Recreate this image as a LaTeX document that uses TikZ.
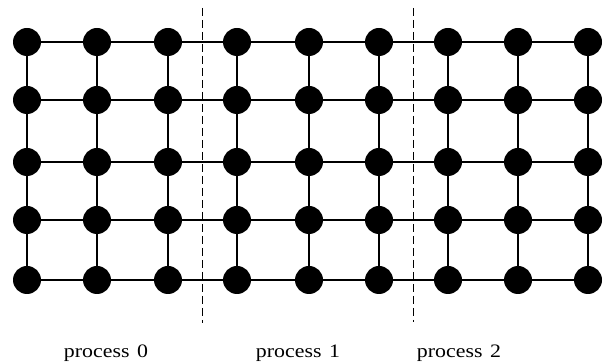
\documentclass[tikz,border=0pt]{standalone}
\usepackage{fontspec}
\setmainfont{Liberation Serif}
\newfontfamily\labfont[FakeStretch=1.15]{Liberation Serif}
\begin{document}
\begin{tikzpicture}[x=1pt,y=-1pt,
  vertex/.style={circle,fill=black,inner sep=0pt,minimum size=28pt},
  edge/.style={line width=1.6pt},
  divider/.style={line width=0.9pt,dash pattern=on 8pt off 4pt},
  plabel/.style={font=\labfont\fontsize{19}{22}\selectfont,inner sep=0pt,anchor=base}]
\useasboundingbox (0,0) rectangle (614,363);
\def\colx{{27,97,168,237,309,379,448,518,588}}
\def\rowy{{42,100,162,220,280}}
\foreach \i in {0,...,8}{
  \foreach \j in {0,...,4}{
    \pgfmathsetmacro{\xx}{\colx[\i]}
    \pgfmathsetmacro{\yy}{\rowy[\j]}
    \coordinate (p-\i-\j) at (\xx,\yy);
  }
}
\foreach \i in {0,...,8}{
  \foreach \j [evaluate=\j as \jn using int(\j+1)] in {0,...,3}{
    \draw[edge] (p-\i-\j) -- (p-\i-\jn);
  }
}
\foreach \j in {0,...,4}{
  \foreach \i [evaluate=\i as \in using int(\i+1)] in {0,...,7}{
    \draw[edge] (p-\i-\j) -- (p-\in-\j);
  }
}
\foreach \i in {0,...,8}{
  \foreach \j in {0,...,4}{
    \node[vertex] (n-\i-\j) at (p-\i-\j) {};
  }
}
\coordinate (d1t) at (202,8);
\coordinate (d1b) at (202,323);
\coordinate (d2t) at (413,8);
\coordinate (d2b) at (413,322);
\draw[divider] (d1t) -- (d1b);
\draw[divider] (d2t) -- (d2b);
\node[plabel] (l0) at (106,358) {process\hspace{0.4em}0};
\node[plabel] (l1) at (298,358) {process\hspace{0.4em}1};
\node[plabel] (l2) at (459,358) {process\hspace{0.4em}2};
\end{tikzpicture}
\end{document}
